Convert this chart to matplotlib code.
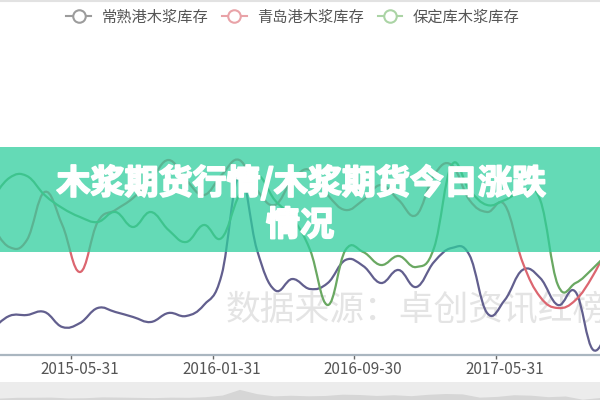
import numpy as np
import pandas as pd
import matplotlib
matplotlib.use("Agg")
import matplotlib.pyplot as plt
import matplotlib.patheffects as pe
from matplotlib.path import Path
from matplotlib.patches import PathPatch, Rectangle
from matplotlib.lines import Line2D

plt.rcParams['font.family'] = ['Noto Sans CJK SC', 'DejaVu Sans']

# monthly categories, Dec 2014 .. Nov 2017
months = pd.date_range('2014-12-31', '2017-11-30', freq='ME')
month_labels = [d.strftime('%Y-%m-%d') for d in months]

changshu = [25, 39, 40, 43, 28, 32, 47, 43, 38, 33, 42, 39, 50, 80, 180, 105, 65, 76,
            66, 72, 95, 89, 72, 85, 68, 93, 107, 100, 42, 55, 85, 77, 50, 63, 5, 35]
qingdao = [130, 108, 115, 163, 130, 83, 133, 145, 157, 175, 195, 175, 160, 180, 195, 165, 150, 175,
           185, 160, 145, 155, 170, 155, 140, 180, 190, 155, 143, 150, 93, 58, 47, 55, 80, 115]
baoding = [155, 177, 179, 160, 147, 138, 133, 143, 128, 143, 125, 113, 130, 117, 160, 180, 155, 137,
           105, 50, 105, 103, 90, 99, 88, 107, 190, 165, 150, 155, 163, 155, 70, 72, 87, 105]

names = ['常熟港木浆库存', '青岛港木浆库存', '保定库木浆库存']
line_colors = ['#625f8e', '#dc6670', '#6aa862']
legend_colors = ['#9c9c9c', '#e9a3a8', '#abd4a5']

label_every = 8
first_label = 5


def smooth_path(xs, ys, s=0.2):
    # cubic bezier segments through every point (echarts style smooth line)
    pts = np.column_stack([xs, ys]).astype(float)
    n = len(pts)
    verts = [pts[0]]
    codes = [Path.MOVETO]
    for i in range(n - 1):
        p0 = pts[max(i - 1, 0)]
        p1 = pts[i]
        p2 = pts[i + 1]
        p3 = pts[min(i + 2, n - 1)]
        c1 = p1 + (p2 - p0) * s
        c2 = p2 - (p3 - p1) * s
        verts += [c1, c2, p2]
        codes += [Path.CURVE4] * 3
    return Path(verts, codes)


fig = plt.figure(figsize=(6, 4), dpi=100)
ax = fig.add_axes([0, 45 / 400, 1, 355 / 400])

x = np.arange(len(months))

# watermark, runs off the right edge like in the source image
ax.text(226 / 600, (355 - 310) / 355, '数据来源：卓创资讯红榜',
        transform=ax.transAxes, fontsize=25, color='#e4e4e4',
        ha='left', va='center', zorder=0, clip_on=True)

for vals, c in zip([changshu, qingdao, baoding], line_colors):
    ax.add_patch(PathPatch(smooth_path(x, vals), facecolor='none',
                           edgecolor=c, lw=1.6, zorder=2))

ax.set_xlim(5 - 80 / 17.7, 5 + 520 / 17.7)
ax.set_ylim(0, 355)

for s in ['top', 'left', 'right']:
    ax.spines[s].set_visible(False)
ax.spines['bottom'].set_color('#aab6c0')
ax.spines['bottom'].set_linewidth(1.6)
ax.set_yticks([])

lab_pos = list(range(first_label, len(months), label_every))
ax.set_xticks(lab_pos)
ax.set_xticklabels([month_labels[i] for i in lab_pos], fontsize=11, color='#555555')
ax.tick_params(axis='x', which='major', length=0, pad=4)
ax.set_xticks([p - 0.5 for p in lab_pos], minor=True)
ax.tick_params(axis='x', which='minor', length=3, width=1, color='#666666')
ax.patch.set_alpha(0)

# data zoom slider at the bottom
sl = fig.add_axes([0, 0, 1, 18.5 / 400])
sl.set_facecolor('#ececec')
sl.fill_between(x, 0, changshu, color='#d6d6d6', lw=0)
sl.set_xlim(0, len(months) - 1)
sl.set_ylim(0, 330)
sl.axis('off')
sl.add_patch(Rectangle((0, 0), 1, 1, transform=sl.transAxes, color='#ececec', zorder=0))

# legend
handles = [Line2D([0], [0], color=c, lw=1.5, marker='o', markersize=9,
                  markerfacecolor='white', markeredgewidth=1.5) for c in legend_colors]
fig.legend(handles, names, loc='center', bbox_to_anchor=(293 / 600, 1 - 17 / 400),
           ncol=3, frameon=False, fontsize=11, labelcolor='#555555',
           handlelength=1.6, handletextpad=0.7, columnspacing=0.9)

fig.add_artist(Line2D([0, 1], [0.997, 0.997], color='#e2e2e2', lw=1.5))

# banner over the chart
fig.add_artist(Rectangle((0, 1 - 252 / 400), 1, 105 / 400, transform=fig.transFigure,
                         facecolor='#30ce9e', alpha=0.75, edgecolor='none', zorder=5))
heavy = [pe.withStroke(linewidth=1.3, foreground='white')]
fig.text(301 / 600, 1 - 183 / 400, '木浆期货行情/木浆期货今日涨跌', color='white',
         fontsize=24.5, fontweight='bold', ha='center', va='center', zorder=6,
         path_effects=heavy)
fig.text(300 / 600, 1 - 225 / 400, '情况', color='white',
         fontsize=24.5, fontweight='bold', ha='center', va='center', zorder=6,
         path_effects=heavy)

fig.savefig('out.png', dpi=100)
